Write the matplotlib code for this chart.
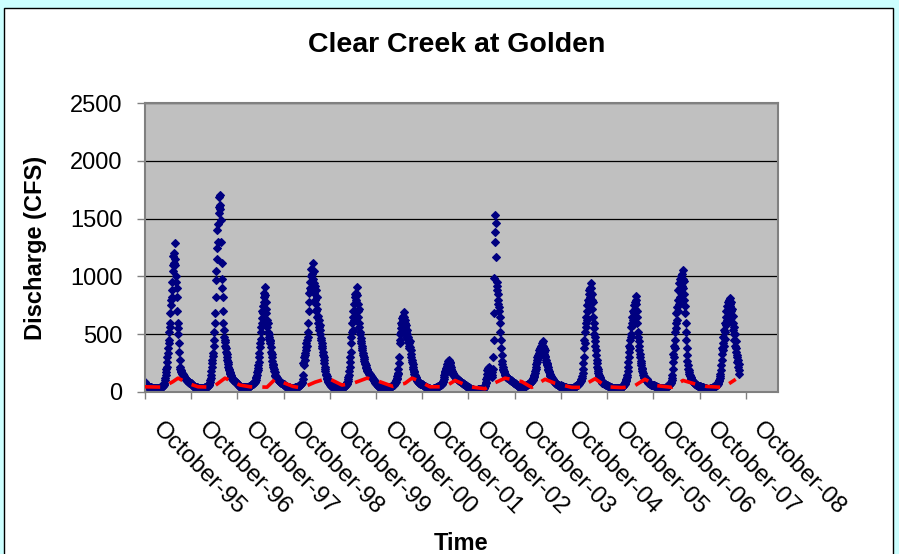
import numpy as np
import pandas as pd
import matplotlib
matplotlib.use("Agg")
import matplotlib.pyplot as plt
import matplotlib.patches as mpatches
import matplotlib.transforms as mtransforms

plt.rcParams['font.family'] = ['Liberation Sans', 'DejaVu Sans']

# ---- axis range (one tick every 365 days) ----
axis_start = np.datetime64('1995-10-28')
axis_end = np.datetime64('2009-07-06')
tick_labels = ['October-95', 'October-96', 'October-97', 'October-98',
               'October-99', 'October-00', 'October-01', 'October-02',
               'October-03', 'October-04', 'October-05', 'October-06',
               'October-07', 'October-08']

# ---- discharge (CFS), one value every 3 days, each year starting at its October tick ----
flow_1996 = [88, 72, 66, 60, 56, 52, 50, 48, 46, 45,
             44, 43, 42, 41, 40, 40, 39, 38, 38, 37,
             37, 36, 36, 35, 36, 35, 34, 35, 34, 35,
             34, 35, 36, 35, 36, 37, 36, 38, 37, 38,
             40, 39, 41, 42, 44, 45, 48, 50, 55, 62,
             70, 82, 100, 120, 145, 175, 200, 220, 260, 300,
             335, 380, 420, 450, 520, 600, 560, 680, 750, 800,
             880, 820, 950, 1050, 1100, 1180, 1120, 1200, 1150, 1290,
             1100, 1000, 950, 900, 820, 700, 600, 550, 500, 420,
             350, 280, 220, 200, 190, 180, 170, 165, 160, 155,
             150, 145, 140, 135, 130, 125, 120, 115, 110, 105,
             100, 98, 95, 92, 90, 88, 85, 82, 80, 78, 76, 75]
flow_1997 = [80, 72, 65, 60, 55, 52, 50, 48, 46, 45,
             44, 43, 42, 41, 40, 40, 39, 38, 38, 37,
             36, 36, 35, 35, 34, 35, 34, 35, 36, 35,
             36, 37, 36, 38, 37, 39, 40, 41, 42, 43,
             45, 46, 48, 50, 52, 55, 58, 62, 70, 85,
             100, 120, 150, 180, 220, 250, 280, 310, 340, 400,
             450, 520, 600, 680, 820, 970, 1050, 1150, 1250, 1400,
             1300, 1450, 1550, 1600, 1690, 1580, 1700, 1620, 1490, 1300,
             1115, 980, 900, 820, 700, 600, 540, 480, 450, 430,
             400, 380, 350, 330, 300, 280, 260, 240, 220, 200,
             190, 175, 165, 155, 145, 135, 128, 120, 115, 110,
             106, 102, 100, 98, 95, 92, 90, 88, 85, 82, 80, 78]
flow_1998 = [78, 70, 64, 58, 54, 50, 48, 46, 45, 44,
             43, 42, 42, 41, 40, 40, 39, 40, 39, 40,
             40, 41, 40, 42, 41, 42, 43, 44, 45, 46,
             47, 48, 50, 52, 55, 58, 60, 62, 65, 68,
             70, 72, 75, 78, 80, 85, 90, 95, 105, 120,
             130, 150, 170, 190, 210, 230, 260, 300, 340, 390,
             420, 460, 520, 560, 600, 640, 700, 680, 740, 780,
             820, 860, 910, 840, 780, 720, 680, 620, 600, 560,
             600, 520, 500, 480, 460, 450, 440, 420, 390, 350,
             330, 300, 270, 245, 230, 215, 200, 185, 170, 150,
             140, 135, 130, 125, 120, 115, 110, 105, 100, 95,
             92, 90, 88, 85, 82, 80, 78, 76, 74, 72, 70, 68]
flow_1999 = [70, 65, 60, 56, 52, 50, 48, 46, 45, 44,
             43, 42, 41, 40, 40, 39, 38, 38, 37, 37,
             36, 36, 35, 35, 36, 35, 36, 37, 36, 38,
             38, 40, 39, 41, 42, 43, 45, 46, 48, 50,
             52, 55, 58, 60, 62, 65, 68, 72, 78, 90,
             110, 150, 255, 230, 300, 280, 340, 320, 390, 360,
             420, 450, 400, 480, 520, 600, 700, 855, 780, 900,
             950, 1000, 880, 1060, 950, 1020, 900, 980, 1113, 940,
             1050, 860, 920, 800, 880, 760, 700, 820, 650, 720,
             600, 660, 560, 620, 540, 580, 500, 540, 470, 450,
             420, 400, 380, 350, 320, 300, 280, 250, 220, 200,
             180, 160, 145, 135, 125, 115, 105, 95, 88, 80, 75, 70]
flow_2000 = [68, 64, 60, 56, 52, 50, 48, 46, 45, 44,
             43, 42, 41, 40, 40, 39, 38, 38, 37, 36,
             36, 35, 35, 34, 35, 34, 35, 36, 35, 36,
             37, 38, 38, 40, 41, 42, 44, 45, 48, 50,
             52, 55, 58, 62, 68, 75, 85, 95, 110, 130,
             150, 180, 220, 260, 300, 350, 420, 480, 520, 600,
             650, 540, 700, 760, 620, 820, 700, 850, 780, 860,
             800, 910, 840, 760, 700, 650, 720, 600, 560, 520,
             500, 470, 440, 420, 400, 380, 360, 340, 320, 300,
             285, 270, 255, 240, 230, 220, 210, 200, 190, 180,
             175, 170, 165, 160, 158, 155, 150, 145, 140, 135,
             130, 125, 120, 115, 110, 105, 100, 95, 90, 85, 80, 75]
flow_2001 = [75, 70, 65, 60, 56, 52, 50, 48, 46, 45,
             44, 43, 42, 41, 40, 40, 39, 38, 38, 37,
             37, 36, 36, 35, 36, 35, 34, 35, 36, 35,
             36, 37, 38, 38, 40, 41, 42, 44, 45, 47,
             48, 50, 52, 55, 58, 60, 64, 68, 72, 76,
             80, 85, 90, 100, 110, 125, 140, 155, 165, 200,
             250, 300, 450, 500, 420, 550, 600, 520, 580, 640,
             600, 660, 620, 695, 650, 600, 560, 620, 520, 580,
             480, 540, 500, 460, 430, 480, 420, 400, 380, 440,
             390, 360, 330, 300, 280, 260, 240, 220, 200, 185,
             170, 160, 150, 140, 130, 120, 112, 105, 100, 95,
             90, 86, 82, 80, 78, 76, 74, 72, 70, 68, 66, 65]
flow_2002 = [65, 62, 60, 58, 55, 52, 50, 48, 46, 45,
             44, 42, 40, 38, 36, 35, 34, 33, 32, 31,
             30, 30, 29, 28, 28, 29, 28, 30, 29, 30,
             31, 32, 33, 34, 35, 36, 38, 40, 42, 44,
             46, 48, 50, 52, 54, 56, 58, 60, 62, 64,
             66, 68, 72, 78, 85, 95, 110, 130, 150, 165,
             180, 170, 195, 210, 200, 225, 240, 230, 250, 265,
             240, 277, 260, 250, 235, 215, 200, 190, 180, 175,
             165, 160, 150, 145, 140, 135, 130, 128, 125, 120,
             118, 115, 112, 110, 108, 105, 102, 100, 98, 95,
             92, 90, 88, 85, 82, 80, 78, 75, 72, 70,
             68, 65, 62, 60, 58, 55, 52, 50, 48, 46, 44, 42]
flow_2003 = [42, 40, 38, 35, 32, 30, 28, 27, 26, 25,
             24, 22, 20, 18, 16, 15, 14, 15, 16, 18,
             20, 18, 17, 19, 20, 22, 21, 23, 24, 25,
             26, 27, 26, 28, 27, 29, 28, 30, 29, 30,
             32, 35, 40, 50, 60, 75, 90, 110, 130, 160,
             190, 210, 180, 200, 220, 170, 150, 180, 200, 160,
             140, 130, 150, 170, 200, 305, 450, 680, 985, 1380,
             1530, 1300, 1460, 1170, 950, 880, 920, 850, 800, 760,
             735, 700, 650, 600, 520, 450, 380, 320, 270, 240,
             220, 200, 190, 180, 170, 160, 150, 145, 140, 135,
             130, 128, 125, 122, 120, 118, 115, 112, 110, 108,
             105, 102, 100, 98, 95, 92, 90, 88, 85, 82, 80, 78]
flow_2004 = [78, 75, 72, 68, 65, 62, 60, 58, 55, 52,
             50, 48, 46, 45, 44, 42, 40, 30, 22, 35,
             40, 42, 44, 45, 46, 48, 50, 52, 54, 56,
             58, 60, 62, 64, 66, 68, 70, 72, 75, 78,
             80, 82, 85, 88, 90, 95, 100, 105, 110, 120,
             130, 140, 150, 165, 180, 200, 220, 240, 260, 280,
             300, 320, 290, 340, 310, 360, 330, 380, 350, 400,
             370, 420, 390, 360, 440, 400, 380, 350, 330, 360,
             310, 300, 280, 260, 250, 240, 230, 215, 200, 190,
             180, 170, 160, 150, 140, 135, 130, 125, 120, 115,
             110, 105, 100, 95, 90, 86, 82, 78, 75, 72,
             70, 68, 66, 64, 62, 60, 58, 56, 55, 54, 53, 55]
flow_2005 = [58, 56, 54, 52, 50, 48, 46, 45, 44, 43,
             42, 41, 40, 39, 38, 37, 36, 35, 34, 34,
             33, 33, 32, 32, 31, 32, 31, 32, 33, 34,
             35, 36, 37, 38, 40, 42, 44, 46, 48, 50,
             52, 55, 58, 60, 62, 65, 68, 72, 76, 80,
             85, 90, 95, 100, 110, 120, 140, 165, 200, 250,
             300, 380, 450, 420, 520, 600, 560, 650, 700, 620,
             750, 800, 700, 850, 780, 880, 820, 900, 860, 945,
             900, 800, 850, 720, 780, 650, 600, 550, 500, 480,
             440, 400, 360, 320, 280, 250, 220, 200, 180, 165,
             150, 140, 130, 120, 110, 100, 95, 90, 86, 82,
             80, 78, 76, 74, 72, 70, 68, 66, 64, 62, 62, 62]
flow_2006 = [62, 58, 55, 52, 50, 48, 46, 44, 42, 41,
             40, 39, 38, 37, 36, 35, 34, 33, 33, 32,
             32, 31, 31, 30, 31, 30, 31, 32, 33, 34,
             33, 34, 35, 36, 37, 38, 39, 40, 42, 44,
             45, 48, 50, 55, 60, 65, 70, 78, 85, 95,
             100, 110, 130, 150, 180, 220, 260, 300, 350, 400,
             450, 380, 500, 560, 480, 600, 650, 580, 700, 620,
             680, 750, 700, 780, 720, 800, 760, 830, 700, 650,
             600, 520, 480, 440, 400, 360, 330, 300, 270, 250,
             230, 210, 195, 180, 165, 150, 140, 130, 125, 120,
             115, 110, 108, 105, 110, 100, 95, 90, 86, 82,
             78, 75, 72, 70, 68, 66, 64, 62, 62, 62, 62, 62]
flow_2007 = [62, 60, 58, 56, 54, 52, 50, 48, 46, 45,
             44, 42, 40, 39, 38, 37, 36, 35, 34, 34,
             33, 33, 32, 32, 31, 32, 31, 32, 33, 34,
             35, 36, 38, 40, 42, 44, 46, 48, 50, 52,
             55, 58, 62, 66, 70, 75, 80, 90, 100, 120,
             150, 200, 260, 330, 300, 400, 450, 380, 520, 600,
             680, 550, 735, 620, 800, 700, 880, 760, 940, 820,
             980, 900, 1000, 860, 950, 1020, 920, 1055, 980, 900,
             960, 850, 800, 740, 680, 600, 520, 450, 380, 320,
             270, 230, 200, 190, 175, 160, 150, 140, 130, 120,
             112, 105, 100, 96, 92, 88, 84, 80, 76, 72,
             70, 68, 66, 64, 62, 60, 58, 56, 55, 54, 53, 52]
flow_2008 = [52, 50, 48, 46, 45, 44, 42, 41, 40, 39,
             38, 37, 36, 35, 34, 33, 32, 31, 30, 30,
             29, 29, 28, 28, 29, 28, 29, 30, 31, 32,
             33, 34, 35, 36, 38, 40, 42, 44, 46, 48,
             50, 52, 54, 56, 58, 60, 64, 68, 72, 78,
             85, 95, 105, 120, 140, 160, 190, 230, 280, 330,
             380, 420, 360, 480, 400, 540, 460, 600, 520, 650,
             580, 700, 620, 740, 680, 780, 720, 760, 800, 815,
             740, 760, 700, 780, 640, 720, 600, 660, 540, 600,
             500, 560, 450, 500, 400, 440, 350, 380, 300, 320,
             260, 280, 220, 240, 190, 160]

yearly_flows = [flow_1996, flow_1997, flow_1998, flow_1999, flow_2000,
                flow_2001, flow_2002, flow_2003, flow_2004, flow_2005,
                flow_2006, flow_2007, flow_2008]

# ---- red dashed reference flow (CFS) ----
ref_dates = ['1995-10-28', '1996-03-18', '1996-06-05', '1996-07-15', '1996-10-02',
             '1996-12-20', '1997-04-17', '1997-07-21', '1997-11-16', '1998-02-03',
             '1998-06-18', '1998-08-20', '1999-01-09', '1999-03-19', '1999-07-02',
             '1999-10-13', '2000-01-31', '2000-04-27', '2000-08-16', '2000-11-10',
             '2001-03-09', '2001-06-12', '2001-08-06', '2001-09-22', '2001-12-26',
             '2002-04-24', '2002-07-12', '2002-11-07', '2003-03-06', '2003-05-24',
             '2003-08-11', '2003-12-21', '2004-03-08', '2004-06-22', '2004-09-09',
             '2005-01-19', '2005-03-25', '2005-07-22', '2005-10-22', '2006-02-17',
             '2006-05-18', '2006-08-20', '2006-11-21', '2007-03-19', '2007-06-17',
             '2007-10-13', '2007-12-21', '2008-04-30', '2008-08-06']
ref_flow = [45, 42, 90, 120, 75,
            45, 42, 120, 60, 45,
            42, 110, 48, 35, 85,
            120, 60, 75, 120, 95,
            48, 75, 120, 100, 45,
            45, 100, 45, 28, 80,
            120, 90, 40, 110, 75,
            40, 40, 115, 45, 38,
            45, 110, 55, 40, 100,
            62, 48, 40, 110]

# ---- figure ----
W, H = 899, 554
fig = plt.figure(figsize=(W / 100, H / 100), dpi=100)
fig.patch.set_facecolor('#CCFFFF')

# white chart panel with a thin black border, behind the axes
panel = mpatches.Rectangle((4 / W, -0.05), 889 / W, 1.05 - 8 / H,
                           transform=fig.transFigure, facecolor='white',
                           edgecolor='black', linewidth=1.0, zorder=-5)
fig.patches.append(panel)

ax = fig.add_axes([145 / W, (H - 392) / H, 633 / W, 289 / H])
ax.set_zorder(1)
ax.set_facecolor('#C0C0C0')

tick_dates = axis_start + np.arange(len(tick_labels)) * np.timedelta64(365, 'D')

for k, vals in enumerate(yearly_flows):
    dates = pd.date_range(start=pd.Timestamp(tick_dates[k]), periods=len(vals), freq='3D')
    ax.plot(dates, vals, linestyle='none', marker='D', markersize=4.3,
            color='#000080', markeredgecolor='#000080', markeredgewidth=0.8,
            zorder=2)

ax.plot(pd.to_datetime(ref_dates), ref_flow, color='#FF0000', linewidth=2.6,
        dashes=(4.2, 2.8), dash_capstyle='butt', zorder=3)

ax.set_xlim(axis_start, axis_end)
ax.set_ylim(0, 2500)
ax.set_yticks(np.arange(0, 2501, 500))
ax.yaxis.grid(True, color='#000000', linewidth=0.9)
ax.set_axisbelow(True)

for side in ['left', 'right', 'top', 'bottom']:
    ax.spines[side].set_color('#808080')
    ax.spines[side].set_linewidth(1.5)

ax.tick_params(axis='y', direction='out', length=5.8, width=1.0, color='#808080',
               pad=10.5, labelsize=17, labelcolor='black')
ax.tick_params(axis='x', direction='out', length=4.8, width=1.0, color='#808080',
               pad=13.9, labelsize=17.5, labelcolor='black')

ax.set_xticks(tick_dates)
ax.set_xticklabels(tick_labels, rotation=-45, ha='left', va='top',
                   rotation_mode='anchor')
shift = mtransforms.ScaledTranslation(0.185, 0, fig.dpi_scale_trans)
for lab in ax.get_xticklabels():
    lab.set_transform(lab.get_transform() + shift)

fig.text(457 / W, 1 - 52 / H, 'Clear Creek at Golden', ha='center', va='baseline',
         fontsize=20.5, fontweight='bold')
fig.text(461 / W, 1 - 550 / H, 'Time', ha='center', va='baseline',
         fontsize=17, fontweight='bold')
fig.text(36 / W, 1 - 248 / H, 'Discharge (CFS)', ha='center', va='center',
         rotation=90, fontsize=17, fontweight='bold')

fig.savefig('out.png', dpi=100, facecolor=fig.get_facecolor())
